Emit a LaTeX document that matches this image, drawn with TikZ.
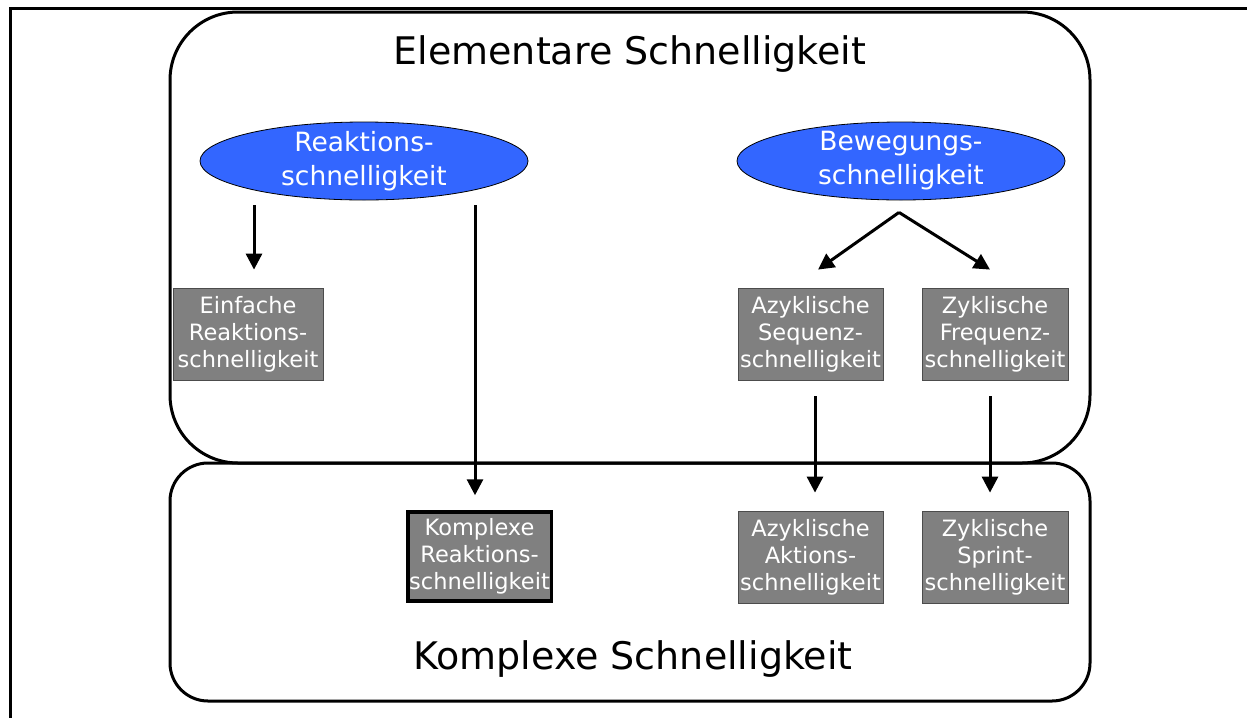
\documentclass[tikz,border=0pt]{standalone}
\usepackage{fontspec}
\setmainfont{DejaVu Sans}
\usetikzlibrary{arrows.meta,shapes.geometric}
\definecolor{ovalblue}{HTML}{3366FF}
\definecolor{boxgray}{HTML}{808080}
\tikzset{
  frame/.style={line width=3pt},
  region/.style={line width=3pt},
  oval/.style={ellipse, draw=black, line width=0.8pt, fill=ovalblue, inner sep=0pt,
    minimum width=328pt, minimum height=78pt},
  ovaltext/.style={text=white, align=center, inner sep=0pt,
    font=\fontsize{26.5}{34}\selectfont},
  graybox/.style={rectangle, draw=black!70, line width=0.8pt, fill=boxgray, text=white,
    align=center, inner sep=0pt, minimum height=92pt,
    font=\fontsize{22.5}{27}\selectfont},
  heavybox/.style={graybox, draw=black, line width=3.5pt, minimum height=89pt},
  title/.style={inner sep=0pt, font=\fontsize{38}{40}\selectfont},
  arr/.style={line width=3pt, -{Triangle[length=16pt,width=16pt]}}
}
\begin{document}
\begin{tikzpicture}[x=1pt,y=-1pt]
\useasboundingbox (0,0) rectangle (1247,718);

% page frame, open to the right and bottom
\draw[frame] (1247,8) -- (10,8) -- (10,718);

% the two regions
\draw[region, rounded corners=68pt] (170,12) rectangle (1090,463);
\draw[region, rounded corners=38pt] (170,463) rectangle (1090,701);

\node[title] (elem) at (630,54) {Elementare Schnelligkeit};
\node[title] (komp) at (633,659) {Komplexe Schnelligkeit};

% ovals
\node[oval] (rk) at (364,161) {};
\node[ovaltext] at (rk.center) {Reaktions-\\schnelligkeit};
\node[oval] (bw) at (901,161) {};
\node[ovaltext] at (bw.center) {Bewegungs-\\schnelligkeit};

% boxes, upper region
\node[graybox, minimum width=150pt] (ein) at (248,334) {Einfache\\Reaktions-\\schnelligkeit};
\node[graybox, minimum width=145pt] (az1) at (810.5,334) {Azyklische\\Sequenz-\\schnelligkeit};
\node[graybox, minimum width=146pt] (zy1) at (995,334) {Zyklische\\Frequenz-\\schnelligkeit};

% boxes, lower region
\node[heavybox, minimum width=143.5pt] (kr) at (479.5,556.5) {Komplexe\\Reaktions-\\schnelligkeit};
\node[graybox, minimum width=145pt] (az2) at (810.5,557) {Azyklische\\Aktions-\\schnelligkeit};
\node[graybox, minimum width=146pt] (zy2) at (995,557) {Zyklische\\Sprint-\\schnelligkeit};

% connectors
\draw[arr] ([xshift=-110pt,yshift=-5pt]rk.south) -- ([xshift=6pt,yshift=18pt]ein.north);
\draw[arr] ([xshift=111pt,yshift=-5pt]rk.south) -- ([xshift=-4.5pt,yshift=15pt]kr.north);
\coordinate (fork) at ([xshift=-2pt,yshift=-12pt]bw.south);
\draw[arr] (fork) -- ([xshift=7.5pt,yshift=18pt]az1.north);
\draw[arr] (fork) -- ([xshift=-5pt,yshift=18pt]zy1.north);
\draw[arr] ([xshift=4.5pt,yshift=-16pt]az1.south) -- ([xshift=4.5pt,yshift=18pt]az2.north);
\draw[arr] ([xshift=-5pt,yshift=-16pt]zy1.south) -- ([xshift=-5pt,yshift=18pt]zy2.north);
\end{tikzpicture}
\end{document}
